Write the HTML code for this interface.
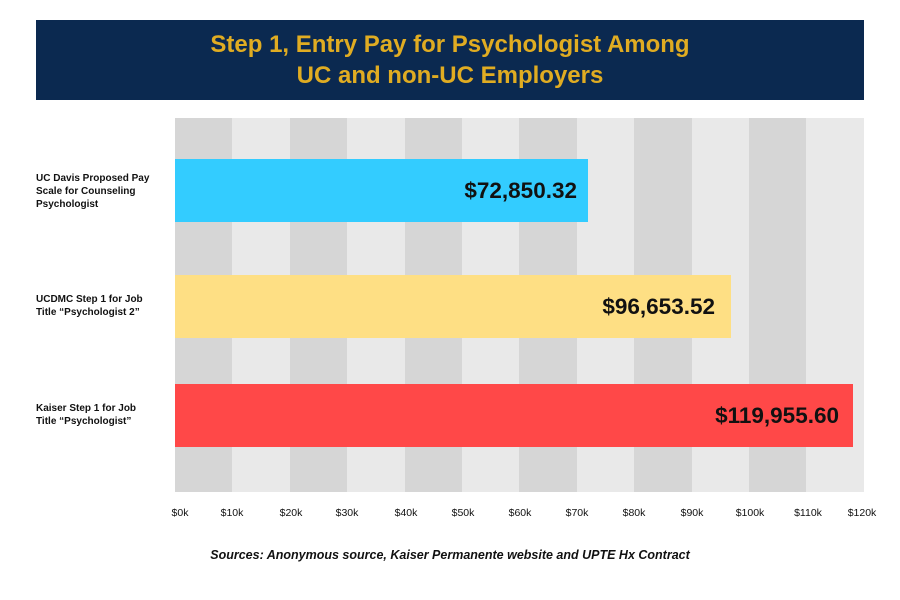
<!DOCTYPE html>
<html><head><style>
body{margin:0;width:900px;height:600px;background:#fff;position:relative;font-family:"Liberation Sans",sans-serif;overflow:hidden}
.hdr{position:absolute;left:36px;top:20px;width:828px;height:80px;background:#0b2950}
.ttl{position:absolute;left:36px;top:29px;width:828px;text-align:center;color:#e0ac22;font-weight:bold;font-size:24px;line-height:31px}
.s{position:absolute;top:118px;height:374px;width:57.4px}
.bar{position:absolute;left:175px;height:63px}
.v{position:absolute;font-weight:bold;font-size:22.5px;color:#111;line-height:63px;text-align:right;width:200px}
.lab{position:absolute;left:36px;font-weight:bold;font-size:10px;line-height:13px;color:#111}
.t{position:absolute;top:507px;font-size:10.5px;color:#111;transform:translateX(-50%)}
.src{position:absolute;top:548px;left:0;width:900px;text-align:center;font-weight:bold;font-style:italic;font-size:12.5px;color:#111}
</style></head><body>
<div class="hdr"></div>
<div class="ttl">Step 1, Entry Pay for Psychologist Among<br>UC and non-UC Employers</div>
<div class="s" style="left:175px;background:#d6d6d6"></div>
<div class="s" style="left:232.4px;background:#e9e9e9"></div>
<div class="s" style="left:289.8px;background:#d6d6d6"></div>
<div class="s" style="left:347.2px;background:#e9e9e9"></div>
<div class="s" style="left:404.6px;background:#d6d6d6"></div>
<div class="s" style="left:462px;background:#e9e9e9"></div>
<div class="s" style="left:519.4px;background:#d6d6d6"></div>
<div class="s" style="left:576.8px;background:#e9e9e9"></div>
<div class="s" style="left:634.2px;background:#d6d6d6"></div>
<div class="s" style="left:691.6px;background:#e9e9e9"></div>
<div class="s" style="left:749px;background:#d6d6d6"></div>
<div class="s" style="left:806.4px;background:#e9e9e9"></div>
<div class="bar" style="top:159px;width:413px;background:#33ccff"></div>
<div class="v" style="top:159px;left:377px">$72,850.32</div>
<div class="bar" style="top:275px;width:556px;background:#fedf84"></div>
<div class="v" style="top:275px;left:515px">$96,653.52</div>
<div class="bar" style="top:384px;width:678px;background:#ff4848"></div>
<div class="v" style="top:384px;left:639px">$119,955.60</div>
<div class="lab" style="top:172px">UC Davis Proposed Pay<br>Scale for Counseling<br>Psychologist</div>
<div class="lab" style="top:293px">UCDMC Step 1 for Job<br>Title “Psychologist 2”</div>
<div class="lab" style="top:402px">Kaiser Step 1 for Job<br>Title “Psychologist”</div>
<div class="t" style="left:180px">$0k</div>
<div class="t" style="left:232px">$10k</div>
<div class="t" style="left:291px">$20k</div>
<div class="t" style="left:347px">$30k</div>
<div class="t" style="left:406px">$40k</div>
<div class="t" style="left:463px">$50k</div>
<div class="t" style="left:520px">$60k</div>
<div class="t" style="left:577px">$70k</div>
<div class="t" style="left:634px">$80k</div>
<div class="t" style="left:692px">$90k</div>
<div class="t" style="left:750px">$100k</div>
<div class="t" style="left:808px">$110k</div>
<div class="t" style="left:862px">$120k</div>
<div class="src">Sources: Anonymous source, Kaiser Permanente website and UPTE Hx Contract</div>
</body></html>
